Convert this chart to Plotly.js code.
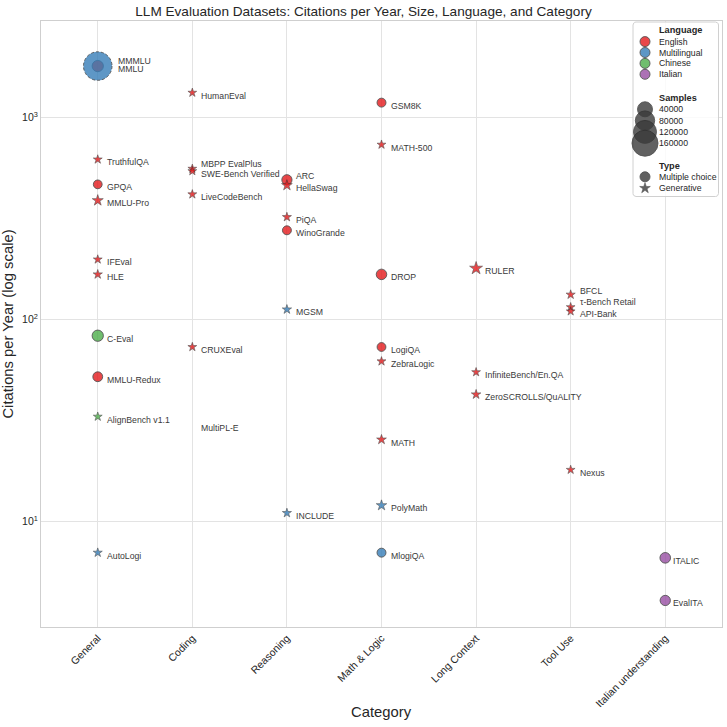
<!DOCTYPE html>
<html>
<head>
<meta charset="utf-8">
<script src="https://cdn.plot.ly/plotly-3.0.1.min.js"></script>
<style>
  html, body { margin: 0; padding: 0; background: #ffffff; }
  #chart { width: 727px; height: 727px; }
</style>
</head>
<body>
<div id="chart"></div>
<script>
// ---- data -----------------------------------------------------------------
const categories = ['General', 'Coding', 'Reasoning', 'Math & Logic',
                    'Long Context', 'Tool Use', 'Italian understanding'];

const datasetNames = [
  'MMLU', 'MMMLU', 'TruthfulQA', 'GPQA', 'MMLU-Pro', 'IFEval', 'HLE',
  'C-Eval', 'MMLU-Redux', 'AlignBench v1.1', 'AutoLogi',
  'HumanEval', 'MBPP EvalPlus', 'SWE-Bench Verified', 'LiveCodeBench', 'CRUXEval', 'MultiPL-E',
  'ARC', 'HellaSwag', 'PiQA', 'WinoGrande', 'MGSM', 'INCLUDE',
  'GSM8K', 'MATH-500', 'DROP', 'LogiQA', 'ZebraLogic', 'MATH', 'PolyMath', 'MlogiQA',
  'RULER', 'InfiniteBench/En.QA', 'ZeroSCROLLS/QuALITY',
  'BFCL', 'τ-Bench Retail', 'API-Bank', 'Nexus',
  'ITALIC', 'EvalITA'
];

const datasetCategory = [
  'General', 'General', 'General', 'General', 'General', 'General', 'General',
  'General', 'General', 'General', 'General',
  'Coding', 'Coding', 'Coding', 'Coding', 'Coding', 'Coding',
  'Reasoning', 'Reasoning', 'Reasoning', 'Reasoning', 'Reasoning', 'Reasoning',
  'Math & Logic', 'Math & Logic', 'Math & Logic', 'Math & Logic', 'Math & Logic', 'Math & Logic', 'Math & Logic', 'Math & Logic',
  'Long Context', 'Long Context', 'Long Context',
  'Tool Use', 'Tool Use', 'Tool Use', 'Tool Use',
  'Italian understanding', 'Italian understanding'
];

const citationsPerYear = [
  1795, 1795, 619, 466, 388, 198, 167,
  83, 52, 33, 7.0,
  1325, 557, 542, 416, 73, 30,
  491, 461, 321, 276, 112, 11.0,
  1183, 733, 167, 73, 62, 25.4, 12.0, 7.0,
  179, 54.8, 42.5,
  132.6, 115, 109.6, 18.0,
  6.6, 4.06
];

// number of samples in each dataset (null = not reported)
const sampleCounts = [
  14042, 196588, 817, 448, 12032, 541, 2500,
  13948, 5700, 683, 1575,
  164, 378, 500, 1055, 800, null,
  7787, 10042, 1838, 1267, 2750, 2000,
  1319, 500, 9536, 651, 1000, 5000, 9000, 1300,
  24000, 351, 4000,
  2000, 115, 314, 318,
  10000, 8000
];

const datasetLanguage = [
  'English', 'Multilingual', 'English', 'English', 'English', 'English', 'English',
  'Chinese', 'English', 'Chinese', 'Multilingual',
  'English', 'English', 'English', 'English', 'English', 'Multilingual',
  'English', 'English', 'English', 'English', 'Multilingual', 'Multilingual',
  'English', 'English', 'English', 'English', 'English', 'English', 'Multilingual', 'Multilingual',
  'English', 'English', 'English',
  'English', 'English', 'English', 'English',
  'Italian', 'Italian'
];

const datasetType = [
  'Multiple choice', 'Multiple choice', 'Generative', 'Multiple choice', 'Generative', 'Generative', 'Generative',
  'Multiple choice', 'Multiple choice', 'Generative', 'Generative',
  'Generative', 'Generative', 'Generative', 'Generative', 'Generative', 'Generative',
  'Multiple choice', 'Generative', 'Generative', 'Multiple choice', 'Generative', 'Generative',
  'Multiple choice', 'Generative', 'Multiple choice', 'Multiple choice', 'Generative', 'Generative', 'Generative', 'Multiple choice',
  'Generative', 'Generative', 'Generative',
  'Generative', 'Generative', 'Generative', 'Generative',
  'Multiple choice', 'Multiple choice'
];

// legend contents
const languageLegend = ['English', 'Multilingual', 'Chinese', 'Italian'];
const sampleLegendTicks = [40000, 80000, 120000, 160000];
const typeLegend = ['Multiple choice', 'Generative'];

// ---- styling --------------------------------------------------------------
const FONT = 'Liberation Sans, Arial, Helvetica, sans-serif';
const TEXT = '#262626';
const languageColor = {
  English: '#e41a1c', Multilingual: '#377eb8', Chinese: '#4daf4a', Italian: '#984ea3'
};
const typeSymbol = { 'Multiple choice': 'circle', 'Generative': 'star' };
const MARKER_ALPHA = 0.8;
const EDGE = '#2b2b2b';
const dashedOutline = ['MMMLU'];

// marker area grows linearly with the number of samples
const diameter = s => (s == null ? 0 : Math.sqrt(75 + 0.00376 * s));
// plotly stars reach about 1.3*size/2 from their centre
const symbolSize = (s, sym) => (sym === 'star' ? diameter(s) / 1.32 : diameter(s));
const edgeWidth = sym => (sym === 'star' ? 0.6 : 0.9);

// label nudges in pixels [dx, dy]; everything else uses the default
const labelNudge = {
  'MMMLU': [18.5, 5.5], 'MMLU': [18.5, -3],
  'MBPP EvalPlus': [7, 4.3], 'ARC': [7, 4],
  'BFCL': [7, 3.6], 'τ-Bench Retail': [7, 5],
  'ITALIC': [5.5, -3], 'EvalITA': [5.5, -3]
};
const DEFAULT_NUDGE = [7, -3];

// ---- geometry -------------------------------------------------------------
const W = 727, H = 727;
const M = { l: 41, r: 5, t: 21, b: 100 };
const plotW = W - M.l - M.r, plotH = H - M.t - M.b;
const px = x => x - M.l;   // figure px -> overlay x
const py = y => y - M.t;   // figure px -> overlay y

// ---- main scatter ---------------------------------------------------------
const symbols = datasetType.map(t => typeSymbol[t]);
const mainTrace = {
  type: 'scatter', mode: 'markers',
  x: datasetCategory, y: citationsPerYear,
  text: datasetNames, hoverinfo: 'text',
  cliponaxis: false, showlegend: false,
  marker: {
    symbol: symbols,
    size: sampleCounts.map((s, i) => symbolSize(s, symbols[i])),
    color: datasetLanguage.map((l, i) => sampleCounts[i] == null ? 'rgba(0,0,0,0)' : languageColor[l]),
    opacity: MARKER_ALPHA,
    line: {
      color: EDGE,
      width: symbols.map((s, i) => sampleCounts[i] == null ? 0 : edgeWidth(s))
    }
  }
};

// dataset name labels
const labelAnnotations = datasetNames.map((n, i) => {
  const [dx, dy] = labelNudge[n] || DEFAULT_NUDGE;
  return {
    x: datasetCategory[i], y: Math.log10(citationsPerYear[i]),
    xref: 'x', yref: 'y', text: n, showarrow: false,
    xanchor: 'left', yanchor: 'middle', xshift: dx, yshift: dy,
    font: { family: FONT, size: 8.7, color: '#3a3a3a' }
  };
});

// ---- legend (drawn on a pixel-unit overlay) -------------------------------
const LG = { x0: 633, x1: 718.5, y0: 22, y1: 196.5, rad: 3, mark: 645, text: 657 };
function roundedRect(x0, y0, x1, y1, r) {
  const xs = [], ys = [];
  const corner = (cx, cy, a0) => {
    for (let k = 0; k <= 6; k++) {
      const a = a0 + (Math.PI / 2) * k / 6;
      xs.push(cx + r * Math.cos(a)); ys.push(cy + r * Math.sin(a));
    }
  };
  corner(x1 - r, y0 + r, -Math.PI / 2);
  corner(x1 - r, y1 - r, 0);
  corner(x0 + r, y1 - r, Math.PI / 2);
  corner(x0 + r, y0 + r, Math.PI);
  xs.push(xs[0]); ys.push(ys[0]);
  return { xs, ys };
}
const box = roundedRect(px(LG.x0), py(LG.y0), px(LG.x1), py(LG.y1), LG.rad);
const legendBox = {
  type: 'scatter', mode: 'lines', x: box.xs, y: box.ys,
  xaxis: 'x2', yaxis: 'y2', fill: 'toself',
  fillcolor: 'rgba(255,255,255,0.8)', line: { color: '#d0d0d0', width: 1 },
  hoverinfo: 'skip', showlegend: false
};

const sections = [
  { title: 'Language', titleY: 29.5, firstY: 41.6, step: 10.9, items: languageLegend },
  { title: 'Samples', titleY: 97.6, firstY: 109.3, step: 11.3, items: sampleLegendTicks },
  { title: 'Type', titleY: 165.7, firstY: 176.8, step: 11.4, items: typeLegend }
];
const rowY = (sec, k) => sec.firstY + sec.step * k;

const legendLanguage = {
  type: 'scatter', mode: 'markers', xaxis: 'x2', yaxis: 'y2',
  x: languageLegend.map(() => px(LG.mark)),
  y: languageLegend.map((_, k) => py(rowY(sections[0], k))),
  marker: { symbol: 'circle', size: 10, color: languageLegend.map(l => languageColor[l]),
            opacity: MARKER_ALPHA, line: { color: EDGE, width: 0.9 } },
  hoverinfo: 'skip', showlegend: false
};
const legendSamples = {
  type: 'scatter', mode: 'markers', xaxis: 'x2', yaxis: 'y2',
  x: sampleLegendTicks.map(() => px(LG.mark)),
  y: sampleLegendTicks.map((_, k) => py(rowY(sections[1], k))),
  marker: { symbol: 'circle', size: sampleLegendTicks.map(s => diameter(s)), color: '#3a3a3a',
            opacity: 0.8, line: { color: EDGE, width: 0.9 } },
  hoverinfo: 'skip', showlegend: false
};
const legendType = {
  type: 'scatter', mode: 'markers', xaxis: 'x2', yaxis: 'y2',
  x: typeLegend.map(() => px(LG.mark)),
  y: typeLegend.map((_, k) => py(rowY(sections[2], k))),
  marker: { symbol: typeLegend.map(t => typeSymbol[t]),
            size: typeLegend.map(t => typeSymbol[t] === 'star' ? 10.5 / 1.32 : 10),
            color: '#3a3a3a', opacity: 0.8,
            line: { color: EDGE, width: typeLegend.map(t => edgeWidth(typeSymbol[t])) } },
  hoverinfo: 'skip', showlegend: false
};

const legendText = [];
sections.forEach(sec => {
  legendText.push({
    xref: 'x2', yref: 'y2', x: px(LG.text), y: py(sec.titleY),
    text: '<b>' + sec.title + '</b>', showarrow: false, xanchor: 'left', yanchor: 'middle',
    font: { family: FONT, size: 9.2, color: TEXT }
  });
  sec.items.forEach((it, k) => legendText.push({
    xref: 'x2', yref: 'y2', x: px(LG.text), y: py(rowY(sec, k)),
    text: String(it), showarrow: false, xanchor: 'left', yanchor: 'middle',
    font: { family: FONT, size: 8.7, color: TEXT }
  }));
});

// x axis title, placed just under the slanted category names
const xTitle = {
  xref: 'paper', yref: 'paper', x: 0.5, y: -(712 - (H - M.b)) / plotH,
  text: 'Category', showarrow: false, xanchor: 'center', yanchor: 'middle',
  font: { family: FONT, size: 14.8, color: TEXT }
};

// ---- layout ---------------------------------------------------------------
const layout = {
  width: W, height: H,
  margin: M,
  paper_bgcolor: '#ffffff', plot_bgcolor: '#ffffff',
  font: { family: FONT, color: TEXT },
  showlegend: false,
  title: {
    text: 'LLM Evaluation Datasets: Citations per Year, Size, Language, and Category',
    font: { family: FONT, size: 13.6, color: TEXT },
    x: 0.5, xref: 'container', xanchor: 'center', y: 1 - 11 / H, yref: 'container', yanchor: 'middle'
  },
  xaxis: {
    type: 'category', categoryorder: 'array', categoryarray: categories,
    range: [-0.6, categories.length - 0.4],
    tickangle: -45, tickfont: { family: FONT, size: 10.5, color: TEXT },
    showgrid: true, gridcolor: '#e3e3e3', gridwidth: 1,
    showline: true, mirror: true, linecolor: '#cfcfcf', linewidth: 1,
    ticks: '', zeroline: false, fixedrange: true
  },
  yaxis: {
    type: 'log', range: [Math.log10(3), Math.log10(3000)],
    tickvals: [10, 100, 1000],
    ticktext: ['10<sup>1</sup>', '10<sup>2</sup>', '10<sup>3</sup>'],
    tickfont: { family: FONT, size: 10.5, color: TEXT },
    showgrid: true, gridcolor: '#e3e3e3', gridwidth: 1,
    showline: true, mirror: true, linecolor: '#cfcfcf', linewidth: 1,
    ticks: '', zeroline: false, fixedrange: true,
    title: { text: 'Citations per Year (log scale)', font: { family: FONT, size: 14.8, color: TEXT }, standoff: 4 }
  },
  xaxis2: { overlaying: 'x', anchor: 'y2', range: [0, plotW], visible: false, fixedrange: true },
  yaxis2: { overlaying: 'y', anchor: 'x2', range: [plotH, 0], visible: false, fixedrange: true },
  annotations: labelAnnotations.concat(legendText, [xTitle])
};

Plotly.newPlot('chart',
  [mainTrace, legendBox, legendLanguage, legendSamples, legendType],
  layout, { displayModeBar: false, staticPlot: true }
).then(gd => {
  // give the selected markers a dashed edge
  const idx = dashedOutline.map(n => datasetNames.indexOf(n));
  const mainLayer = gd.querySelector('.scatterlayer .trace');
  mainLayer.querySelectorAll('path.point').forEach(p => {
    const d = p.__data__;
    if (d && idx.includes(d.i)) {
      p.style.strokeDasharray = '3px,2px';
      p.style.strokeWidth = '0.9px';
    }
  });
});
</script>
</body>
</html>
